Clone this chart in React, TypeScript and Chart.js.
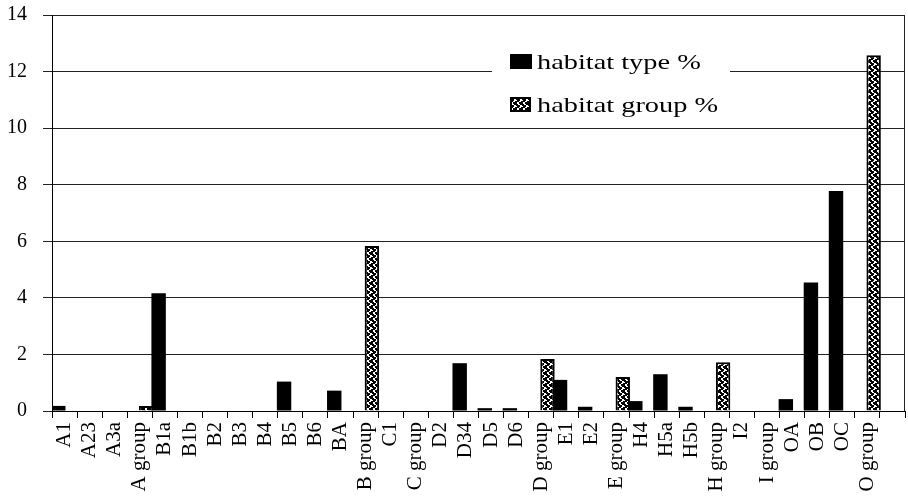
import React, { useEffect, useRef } from "react";
import { Chart, registerables } from "chart.js";

Chart.register(...registerables);

const categories = [
  "A1", "A23", "A3a", "A group", "B1a", "B1b", "B2", "B3", "B4", "B5", "B6", "BA",
  "B group", "C1", "C group", "D2", "D34", "D5", "D6", "D group", "E1", "E2",
  "E group", "H4", "H5a", "H5b", "H group", "I2", "I group", "OA", "OB", "OC",
  "O group", "",
];

const habitatType = [
  0.18, null, null, null, 4.16, null, null, null, null, 1.04, null, 0.72,
  null, null, null, null, 1.69, 0.1, 0.1, null, 1.1, 0.15,
  null, 0.35, 1.3, 0.15, null, null, null, 0.42, 4.54, 7.78,
  null, null,
];

const habitatGroup = [
  null, null, null, 0.18, null, null, null, null, null, null, null, null,
  5.83, null, null, null, null, null, null, 1.84, null, null,
  1.2, null, null, null, 1.72, null, null, null, null, null,
  12.58, null,
];

const yTicks = [0, 2, 4, 6, 8, 10, 12, 14];
const seriesLabels = ["habitat type %", "habitat group %"];

const FONT = "'Liberation Serif', 'Times New Roman', serif";

function makePattern(): CanvasPattern | string {
  const c = document.createElement("canvas");
  c.width = 6;
  c.height = 6;
  const g = c.getContext("2d");
  if (!g) return "#888";
  g.fillStyle = "#000";
  g.fillRect(0, 0, 6, 6);
  g.fillStyle = "#fff";
  g.fillRect(1, 0, 2, 2);
  g.fillRect(2, 2, 2, 1);
  g.fillRect(4, 3, 2, 2);
  g.fillRect(0, 4, 1, 1);
  g.fillRect(3, 5, 2, 1);
  const p = g.createPattern(c, "repeat");
  return p || "#888";
}

export default function App() {
  const ref = useRef<HTMLCanvasElement | null>(null);

  useEffect(() => {
    document.body.style.margin = "0";
    const canvas = ref.current;
    if (!canvas) return;
    const pattern = makePattern();

    const legendPlugin = {
      id: "customLegend",
      afterDraw(chart: any) {
        const ctx = chart.ctx as CanvasRenderingContext2D;
        ctx.save();
        ctx.fillStyle = "#fff";
        ctx.fillRect(492, 28, 238, 88);
        ctx.fillStyle = "#000";
        ctx.fillRect(510, 54, 22, 15);
        ctx.fillStyle = pattern as any;
        ctx.fillRect(510, 97, 21, 15);
        ctx.strokeStyle = "#000";
        ctx.lineWidth = 2;
        ctx.strokeRect(511, 98, 19, 13);
        ctx.fillStyle = "#000";
        ctx.font = `21px ${FONT}`;
        ctx.textBaseline = "alphabetic";
        ctx.textAlign = "left";
        const rows: [string, number][] = [
          [seriesLabels[0], 68.5],
          [seriesLabels[1], 111.5],
        ];
        rows.forEach(([t, y]) => {
          ctx.save();
          ctx.translate(537, y);
          ctx.scale(1.35, 1);
          ctx.fillText(t, 0, 0);
          ctx.restore();
        });
        const a = chart.chartArea;
        ctx.strokeStyle = "#222";
        ctx.lineWidth = 1;
        ctx.beginPath();
        ctx.moveTo(Math.round(a.right) - 0.5, a.top);
        ctx.lineTo(Math.round(a.right) - 0.5, a.bottom);
        ctx.stroke();
        ctx.restore();
      },
    };

    const chart = new Chart(canvas, {
      type: "bar",
      data: {
        labels: categories,
        datasets: [
          {
            label: seriesLabels[0],
            data: habitatType as any,
            backgroundColor: "#000",
            borderWidth: 0,
            barPercentage: 1.15,
            categoryPercentage: 1.0,
          },
          {
            label: seriesLabels[1],
            data: habitatGroup as any,
            backgroundColor: pattern as any,
            borderColor: "#000",
            borderWidth: 2,
            barPercentage: 1.15,
            categoryPercentage: 1.0,
          },
        ],
      },
      options: {
        responsive: false,
        animation: false,
        devicePixelRatio: 1,
        layout: { padding: { top: 15, right: 3, left: 0, bottom: 0 } },
        plugins: {
          legend: { display: false },
          tooltip: { enabled: false },
        },
        scales: {
          x: {
            offset: true,
            grid: {
              display: true,
              drawOnChartArea: false,
              drawTicks: true,
              tickLength: 7,
              offset: true,
              color: "#000",
            },
            border: { display: true, color: "#000" },
            ticks: {
              autoSkip: false,
              minRotation: 90,
              maxRotation: 90,
              padding: 4,
              color: "#000",
              font: { family: FONT, size: 21 },
            },
            afterFit(scale: any) {
              scale.height = 91;
              scale.paddingLeft = 0;
              scale.paddingRight = 0;
            },
          },
          y: {
            min: 0,
            max: 14,
            afterBuildTicks(scale: any) {
              scale.ticks = yTicks.map((v) => ({ value: v }));
            },
            grid: {
              color: "#222",
              lineWidth: 1,
              tickLength: 9,
            },
            border: { display: true, color: "#000" },
            ticks: {
              padding: 16,
              color: "#000",
              font: { family: FONT, size: 20 },
            },
            afterFit(scale: any) {
              scale.width = 52;
              scale.paddingTop = 0;
              scale.paddingBottom = 0;
            },
          },
        },
      },
      plugins: [legendPlugin],
    });

    return () => chart.destroy();
  }, []);

  return (
    <div style={{ width: 908, height: 502, position: "relative" }}>
      <canvas ref={ref} width={908} height={502} style={{ display: "block" }} />
    </div>
  );
}
